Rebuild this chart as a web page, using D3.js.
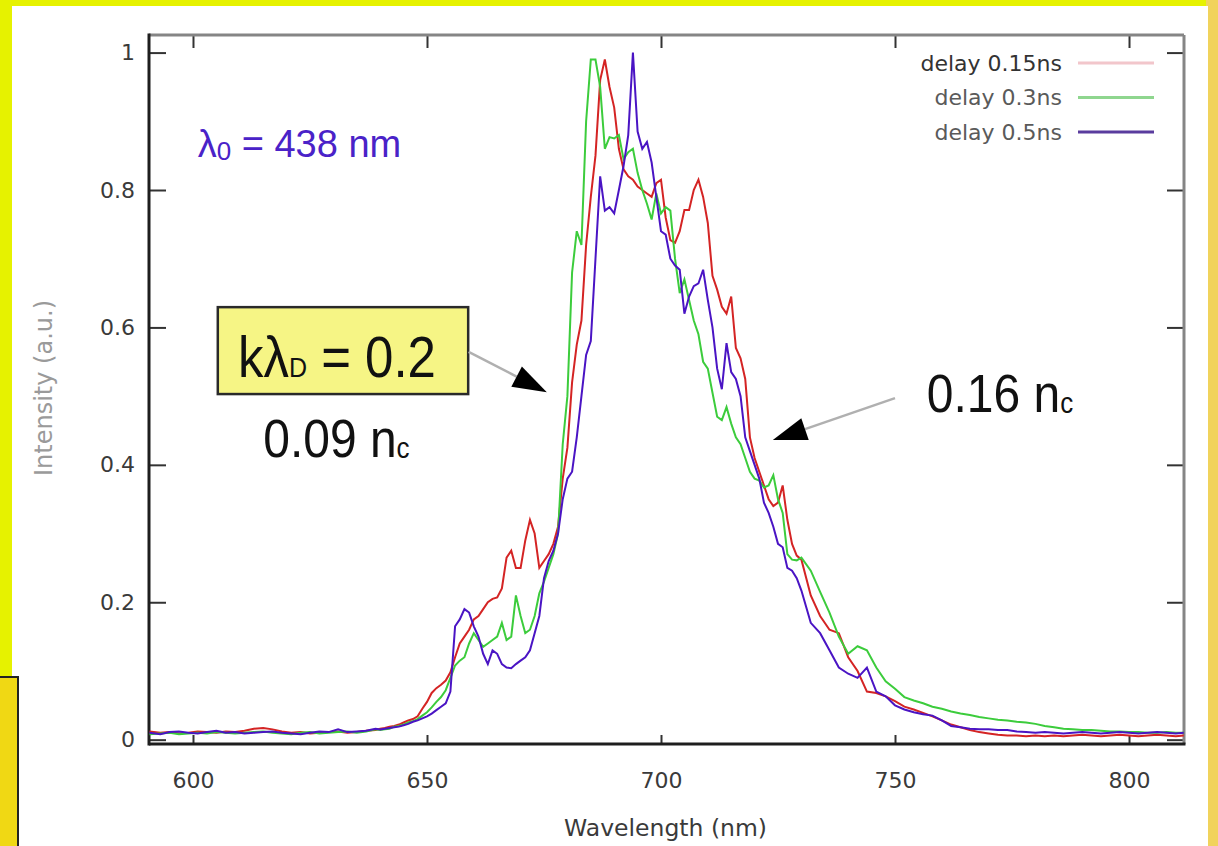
<!DOCTYPE html>
<html>
<head>
<meta charset="utf-8">
<script src="https://cdn.jsdelivr.net/npm/d3@7"></script>
<style>
  body { margin: 0; background: #ffffff; }
  svg { display: block; }
</style>
</head>
<body>
<div id="d3"></div>
<script>
// wavelength grid (nm), shared by the three delays
const wavelength = [
  590.7, 593, 595, 597, 599, 601, 603, 605, 607, 609, 611, 613, 615, 617, 619, 621, 623, 625, 627, 629, 631, 633, 635, 637, 639,
  640, 641, 642, 643, 644, 645, 646, 647, 648, 649,
  650, 651, 652, 653, 654, 655, 656, 657, 658, 659,
  660, 661, 662, 663, 664, 665, 666, 667, 668, 669,
  670, 671, 672, 673, 674, 675, 676, 677, 678, 679,
  680, 681, 682, 683, 684, 685, 686, 687, 688, 689,
  690, 691, 692, 693, 694, 695, 696, 697, 698, 699,
  700, 701, 702, 703, 704, 705, 706, 707, 708, 709,
  710, 711, 712, 713, 714, 715, 716, 717, 718, 719,
  720, 721, 722, 723, 724, 725, 726, 727, 728, 729,
  730,
  732, 734, 736, 738, 740, 742, 744, 746, 748, 750,
  752, 754, 756, 758, 760, 762, 764, 766, 768, 770,
  772, 774, 776, 778, 780, 782, 784, 786, 788, 790,
  792, 794, 796, 798, 800, 802, 804, 806, 808, 810,
  811.7
];

const delay015 = [
  0.012, 0.010, 0.011, 0.009, 0.010, 0.012, 0.011, 0.010, 0.012, 0.011, 0.013, 0.016, 0.017, 0.015, 0.012, 0.010, 0.011, 0.009, 0.010, 0.011, 0.012, 0.010, 0.011, 0.013, 0.014,
  0.016, 0.017, 0.019, 0.020, 0.022, 0.025, 0.028, 0.030, 0.034, 0.045,
  0.055, 0.068, 0.075, 0.080, 0.086, 0.098, 0.120, 0.140, 0.150, 0.160,
  0.175, 0.180, 0.190, 0.200, 0.205, 0.207, 0.220, 0.265, 0.275, 0.250,
  0.250, 0.290, 0.320, 0.300, 0.250, 0.260, 0.270, 0.285, 0.310, 0.380,
  0.425, 0.520, 0.575, 0.610, 0.720, 0.790, 0.850, 0.960, 0.990, 0.950,
  0.920, 0.860, 0.830, 0.820, 0.815, 0.805, 0.800, 0.795, 0.790, 0.810,
  0.815, 0.760, 0.727, 0.723, 0.740, 0.771, 0.771, 0.800, 0.815, 0.790,
  0.752, 0.675, 0.655, 0.630, 0.620, 0.645, 0.570, 0.555, 0.525, 0.440,
  0.410, 0.390, 0.370, 0.350, 0.340, 0.345, 0.370, 0.320, 0.285, 0.268,
  0.262,
  0.210, 0.180, 0.160, 0.155, 0.120, 0.100, 0.070, 0.068, 0.063, 0.056,
  0.048, 0.044, 0.039, 0.034, 0.028, 0.022, 0.018, 0.014, 0.011, 0.009,
  0.007, 0.006, 0.006, 0.005, 0.006, 0.005, 0.006, 0.005, 0.006, 0.007,
  0.006, 0.005, 0.006, 0.007, 0.006, 0.005, 0.006, 0.007, 0.006, 0.005,
  0.006
];

const delay03 = [
  0.008, 0.009, 0.010, 0.008, 0.009, 0.010, 0.009, 0.011, 0.010, 0.009, 0.010, 0.011, 0.012, 0.010, 0.009, 0.008, 0.010, 0.011, 0.009, 0.010, 0.011, 0.012, 0.010, 0.012, 0.015,
  0.014, 0.015, 0.016, 0.019, 0.020, 0.022, 0.025, 0.027, 0.030, 0.035,
  0.040, 0.047, 0.055, 0.062, 0.072, 0.090, 0.108, 0.115, 0.120, 0.140,
  0.155, 0.145, 0.135, 0.140, 0.145, 0.150, 0.170, 0.145, 0.150, 0.210,
  0.180, 0.155, 0.160, 0.180, 0.213, 0.230, 0.250, 0.270, 0.300, 0.430,
  0.500, 0.680, 0.740, 0.720, 0.900, 0.990, 0.990, 0.950, 0.860, 0.877,
  0.875, 0.880, 0.845, 0.855, 0.860, 0.825, 0.800, 0.780, 0.757, 0.795,
  0.766, 0.775, 0.770, 0.700, 0.650, 0.670, 0.640, 0.610, 0.590, 0.550,
  0.540, 0.505, 0.470, 0.465, 0.484, 0.460, 0.440, 0.430, 0.410, 0.390,
  0.380, 0.377, 0.367, 0.370, 0.385, 0.350, 0.330, 0.270, 0.262, 0.261,
  0.265,
  0.246, 0.215, 0.185, 0.150, 0.125, 0.136, 0.130, 0.105, 0.085, 0.074,
  0.062, 0.057, 0.053, 0.048, 0.045, 0.041, 0.038, 0.036, 0.033, 0.031,
  0.029, 0.028, 0.026, 0.025, 0.023, 0.020, 0.018, 0.016, 0.015, 0.014,
  0.014, 0.013, 0.012, 0.012, 0.011, 0.011, 0.010, 0.010, 0.011, 0.010,
  0.010
];

const delay05 = [
  0.010, 0.008, 0.011, 0.012, 0.010, 0.009, 0.011, 0.013, 0.010, 0.011, 0.009, 0.010, 0.011, 0.012, 0.010, 0.009, 0.008, 0.010, 0.012, 0.011, 0.015, 0.011, 0.012, 0.013, 0.016,
  0.015, 0.016, 0.017, 0.018, 0.019, 0.021, 0.023, 0.026, 0.028, 0.031,
  0.034, 0.038, 0.043, 0.048, 0.053, 0.070, 0.165, 0.175, 0.190, 0.185,
  0.165, 0.150, 0.125, 0.110, 0.130, 0.125, 0.110, 0.105, 0.104, 0.110,
  0.115, 0.120, 0.130, 0.155, 0.180, 0.235, 0.260, 0.275, 0.300, 0.350,
  0.380, 0.390, 0.440, 0.500, 0.560, 0.580, 0.700, 0.820, 0.770, 0.775,
  0.766, 0.800, 0.835, 0.880, 1.000, 0.885, 0.860, 0.870, 0.840, 0.790,
  0.740, 0.735, 0.700, 0.690, 0.684, 0.620, 0.645, 0.660, 0.664, 0.684,
  0.640, 0.600, 0.540, 0.510, 0.577, 0.535, 0.525, 0.500, 0.440, 0.420,
  0.400, 0.380, 0.345, 0.330, 0.310, 0.285, 0.280, 0.250, 0.246, 0.235,
  0.217,
  0.170, 0.155, 0.130, 0.105, 0.096, 0.090, 0.105, 0.070, 0.063, 0.050,
  0.044, 0.040, 0.037, 0.035, 0.028, 0.020, 0.018, 0.016, 0.015, 0.015,
  0.014, 0.014, 0.012, 0.011, 0.010, 0.011, 0.010, 0.009, 0.010, 0.011,
  0.010, 0.009, 0.010, 0.011, 0.010, 0.009, 0.010, 0.011, 0.010, 0.009,
  0.010
];

const seriesNames = ["delay 0.15ns", "delay 0.3ns", "delay 0.5ns"];
const seriesValues = [delay015, delay03, delay05];
const seriesColors = ["#d42424", "#3ccc3c", "#4a14c4"];
const legendColors = ["#f2c6cb", "#8fd68f", "#5a3c9e"];

const xTicks = [600, 650, 700, 750, 800];
const yTicks = [0, 0.2, 0.4, 0.6, 0.8, 1];

const width = 1218;
const height = 846;
const plot = { left: 149, right: 1184, top: 35, bottom: 744 };

const svg = d3
  .select("#d3")
  .append("svg")
  .attr("width", width)
  .attr("height", height);

// slide background: yellow border round a white panel
svg.append("rect").attr("width", width).attr("height", height).attr("fill", "#e6f200");
svg.append("rect").attr("x", 1206).attr("y", 0).attr("width", 12).attr("height", height).attr("fill", "#f1d35c");
svg.append("rect").attr("x", 12).attr("y", 6).attr("width", 1196).attr("height", 842).attr("fill", "#ffffff");
svg.append("rect")
  .attr("x", -2).attr("y", 677).attr("width", 20).attr("height", 172)
  .attr("fill", "#f0d814").attr("stroke", "#222").attr("stroke-width", 2);

const x = d3.scaleLinear().domain([590.6, 811.75]).range([plot.left, plot.right]);
const y = d3.scaleLinear().domain([-0.0063, 1.0256]).range([plot.bottom, plot.top]);

const tickFont = "DejaVu Sans, sans-serif";

// axes, ticks pointing inwards like gnuplot
const bottomAxis = svg.append("g")
  .attr("transform", `translate(0,${plot.bottom})`)
  .call(d3.axisBottom(x).tickValues(xTicks).tickSize(-9).tickPadding(28).tickFormat(d3.format("d")));
const topAxis = svg.append("g")
  .attr("transform", `translate(0,${plot.top})`)
  .call(d3.axisTop(x).tickValues(xTicks).tickSize(-13).tickFormat(""));
const leftAxis = svg.append("g")
  .attr("transform", `translate(${plot.left},0)`)
  .call(d3.axisLeft(y).tickValues(yTicks).tickSize(-17).tickPadding(14).tickFormat((d) => (d === 0 || d === 1 ? d : d.toFixed(1))));
const rightAxis = svg.append("g")
  .attr("transform", `translate(${plot.right},0)`)
  .call(d3.axisRight(y).tickValues(yTicks).tickSize(-17).tickFormat(""));

[bottomAxis, topAxis, leftAxis, rightAxis].forEach((g) => {
  g.select(".domain").remove();
  g.selectAll(".tick line").attr("stroke", "#333").attr("stroke-width", 2);
  g.selectAll(".tick text")
    .attr("fill", "#3a3a3a")
    .style("font-family", tickFont)
    .style("font-size", "22px");
});

// frame
svg.append("line").attr("x1", plot.left).attr("y1", plot.top).attr("x2", plot.right).attr("y2", plot.top)
  .attr("stroke", "#858585").attr("stroke-width", 3);
svg.append("line").attr("x1", plot.right).attr("y1", plot.top).attr("x2", plot.right).attr("y2", plot.bottom)
  .attr("stroke", "#858585").attr("stroke-width", 3);
svg.append("line").attr("x1", plot.left).attr("y1", plot.top - 1.5).attr("x2", plot.left).attr("y2", plot.bottom + 1.5)
  .attr("stroke", "#1e1e1e").attr("stroke-width", 3);
svg.append("line").attr("x1", plot.left).attr("y1", plot.bottom).attr("x2", plot.right + 1.5).attr("y2", plot.bottom)
  .attr("stroke", "#1e1e1e").attr("stroke-width", 3);

// axis titles
svg.append("text")
  .attr("x", (plot.left + plot.right) / 2 - 1)
  .attr("y", 836)
  .attr("text-anchor", "middle")
  .attr("fill", "#3a3a3a")
  .style("font-family", tickFont)
  .style("font-size", "23.5px")
  .text("Wavelength (nm)");

svg.append("text")
  .attr("transform", "translate(52,388) rotate(-90)")
  .attr("text-anchor", "middle")
  .attr("fill", "#9a9a9a")
  .style("font-family", tickFont)
  .style("font-size", "24px")
  .text("Intensity (a.u.)");

// spectra
svg.append("clipPath").attr("id", "plot-clip")
  .append("rect")
  .attr("x", plot.left).attr("y", plot.top)
  .attr("width", plot.right - plot.left).attr("height", plot.bottom - plot.top);

const line = d3.line().x((d) => x(d[0])).y((d) => y(d[1]));

seriesValues.forEach((values, i) => {
  svg.append("path")
    .datum(d3.zip(wavelength, values))
    .attr("clip-path", "url(#plot-clip)")
    .attr("fill", "none")
    .attr("stroke", seriesColors[i])
    .attr("stroke-width", 2)
    .attr("stroke-linejoin", "miter")
    .attr("d", line);
});

// legend
const legend = svg.append("g").style("font-family", tickFont).style("font-size", "22px");
seriesNames.forEach((name, i) => {
  const ly = 63 + i * 34.5;
  legend.append("text")
    .attr("x", 1062).attr("y", ly).attr("dy", "0.35em")
    .attr("text-anchor", "end")
    .attr("fill", i === 0 ? "#333" : "#5a5a5a")
    .text(name);
  legend.append("line")
    .attr("x1", 1078).attr("x2", 1154).attr("y1", ly).attr("y2", ly)
    .attr("stroke", legendColors[i]).attr("stroke-width", 3);
});

// annotations, placed in data coordinates
const annoFont = "Liberation Sans, Arial, sans-serif";

const lambda0 = svg.append("text")
  .attr("x", x(601.0)).attr("y", y(0.848))
  .attr("fill", "#4a22c8")
  .style("font-family", annoFont)
  .style("font-size", "38px");
lambda0.append("tspan").text("λ");
lambda0.append("tspan").attr("dy", 3).style("font-size", "26px").text("0");
lambda0.append("tspan").attr("dy", -3).text(" = 438 nm");

svg.append("rect")
  .attr("x", x(605.3)).attr("y", y(0.6295))
  .attr("width", x(658.8) - x(605.3)).attr("height", y(0.503) - y(0.6295))
  .attr("fill", "#f6f585").attr("stroke", "#2a2a2a").attr("stroke-width", 2.5);

const klambda = svg.append("text")
  .attr("transform", `translate(${x(609.6)},${y(0.528)}) scale(1,1.14)`)
  .attr("fill", "#111")
  .style("font-family", annoFont)
  .style("font-size", "51px");
klambda.append("tspan").text("kλ");
klambda.append("tspan").style("font-size", "25px").text("D");
klambda.append("tspan").text(" = 0.2");

function densityLabel(value, at) {
  const t = svg.append("text")
    .attr("transform", `translate(${x(at[0])},${y(at[1])}) scale(1,1.1)`)
    .attr("fill", "#111")
    .style("font-family", annoFont)
    .style("font-size", "48px");
  t.append("tspan").text(value + " n");
  t.append("tspan").attr("dy", 1).style("font-size", "26px").text("c");
}
densityLabel("0.09", [615.0, 0.411]);
densityLabel("0.16", [756.8, 0.4766]);

function arrow(from, to) {
  const x1 = x(from[0]), y1 = y(from[1]);
  const x2 = x(to[0]), y2 = y(to[1]);
  const len = Math.hypot(x2 - x1, y2 - y1);
  const ux = (x2 - x1) / len, uy = (y2 - y1) / len;
  const headLen = 34, headHalf = 11.5;
  const bx = x2 - ux * headLen, by = y2 - uy * headLen;
  svg.append("line")
    .attr("x1", x1).attr("y1", y1).attr("x2", bx).attr("y2", by)
    .attr("stroke", "#b0b0b0").attr("stroke-width", 2.5);
  svg.append("polygon")
    .attr("points", [
      [x2, y2],
      [bx - uy * headHalf, by + ux * headHalf],
      [bx + uy * headHalf, by - ux * headHalf],
    ].map((p) => p.join(",")).join(" "))
    .attr("fill", "#000");
}
arrow([658.9, 0.5645], [675.6, 0.5057]);
arrow([750.0, 0.497], [723.9, 0.436]);
</script>
</body>
</html>
